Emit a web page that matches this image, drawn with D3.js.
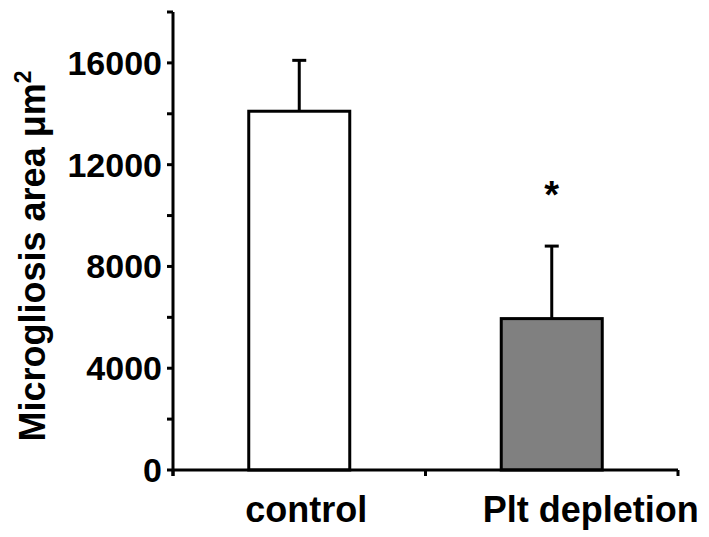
<!DOCTYPE html>
<html>
<head>
<meta charset="utf-8">
<script src="https://cdn.jsdelivr.net/npm/d3@7"></script>
<style>
  body { margin: 0; background: #fff; }
  text { font-family: "Liberation Sans", Arial, sans-serif; font-weight: bold; fill: #000; }
</style>
</head>
<body>
<div id="chart"></div>
<script>
(function(){
  const categories = ['control', 'Plt depletion']
  const means = [14100, 5950]
  const errors = [2000, 2850]
  const fills = ['#ffffff', '#808080']
  const yTicks = [0, 4000, 8000, 12000, 16000]
  const yMinor = [2000, 6000, 10000, 14000, 18000]
  const significant = [false, true]

  const width = 709, height = 537
  const x0 = 173, x1 = 678, y0 = 470, yTop = 12

  const svg = d3.select('#chart').append('svg')
    .attr('width', width)
    .attr('height', height)

  const y = d3.scaleLinear().domain([0, 18000]).range([y0, yTop])
  const x = d3.scaleBand().domain(categories).range([x0, x1]).paddingInner(0).paddingOuter(0)
  const barW = x.bandwidth() * 0.4

  // bars
  svg.selectAll('.bar').data(categories).enter().append('rect')
    .attr('x', d => x(d) + x.bandwidth()/2 - barW/2)
    .attr('y', (d,i) => y(means[i]))
    .attr('width', barW)
    .attr('height', (d,i) => y0 - y(means[i]))
    .attr('fill', (d,i) => fills[i])
    .attr('stroke', '#000')
    .attr('stroke-width', 3)

  // error bars (upper only)
  const eb = svg.selectAll('.err').data(categories).enter().append('g')
  eb.append('line')
    .attr('x1', d => x(d) + x.bandwidth()/2).attr('x2', d => x(d) + x.bandwidth()/2)
    .attr('y1', (d,i) => y(means[i])).attr('y2', (d,i) => y(means[i] + errors[i]))
    .attr('stroke', '#000').attr('stroke-width', 3)
  eb.append('line')
    .attr('x1', d => x(d) + x.bandwidth()/2 - 7).attr('x2', d => x(d) + x.bandwidth()/2 + 7)
    .attr('y1', (d,i) => y(means[i] + errors[i])).attr('y2', (d,i) => y(means[i] + errors[i]))
    .attr('stroke', '#000').attr('stroke-width', 3)

  // significance star
  svg.selectAll('.star').data(categories.filter((d,i) => significant[i])).enter().append('text')
    .attr('x', d => x(d) + x.bandwidth()/2)
    .attr('y', 208)
    .attr('text-anchor', 'middle')
    .style('font-size', '38px')
    .text('*')

  // y axis
  svg.append('line').attr('x1', x0).attr('x2', x0).attr('y1', yTop).attr('y2', y0 + 6)
    .attr('stroke', '#000').attr('stroke-width', 3)
  svg.selectAll('.ytick').data(yTicks.concat(yMinor)).enter().append('line')
    .attr('x1', x0 - 6).attr('x2', x0)
    .attr('y1', d => y(d)).attr('y2', d => y(d))
    .attr('stroke', '#000').attr('stroke-width', 3)
  svg.selectAll('.ylab').data(yTicks).enter().append('text')
    .attr('x', 162)
    .attr('y', d => y(d) + 12)
    .attr('text-anchor', 'end')
    .style('font-size', '34px')
    .text(d => d)

  // x axis
  svg.append('line').attr('x1', x0).attr('x2', x1).attr('y1', y0).attr('y2', y0)
    .attr('stroke', '#000').attr('stroke-width', 3)
  svg.selectAll('.xtick').data([x0, (x0 + x1)/2, x1]).enter().append('line')
    .attr('x1', d => d).attr('x2', d => d)
    .attr('y1', y0).attr('y2', y0 + 6)
    .attr('stroke', '#000').attr('stroke-width', 3)

  const labelShift = [7, 39]
  svg.selectAll('.xlab').data(categories).enter().append('text')
    .attr('x', (d,i) => x(d) + x.bandwidth()/2 + labelShift[i])
    .attr('y', 522)
    .attr('text-anchor', 'middle')
    .style('font-size', '36px')
    .text(d => d)

  // y axis title
  const yt = svg.append('text')
    .attr('transform', 'translate(45,256) rotate(-90)')
    .attr('text-anchor', 'middle')
    .style('font-size', '36px')
  yt.append('tspan').text('Microgliosis area μm')
  yt.append('tspan').attr('dy', -14).style('font-size', '23px').text('2')
})()
</script>
</body>
</html>
